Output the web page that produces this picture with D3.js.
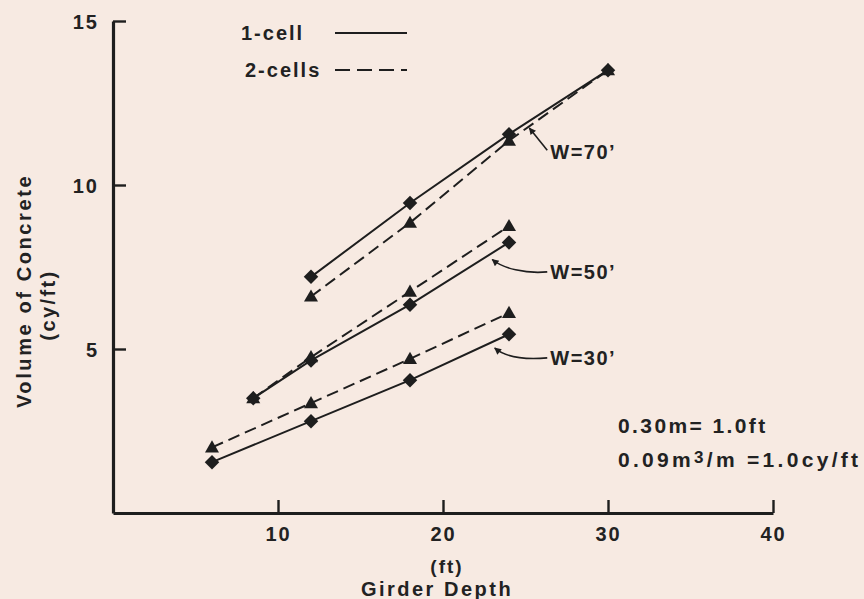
<!DOCTYPE html>
<html>
<head>
<meta charset="utf-8">
<script src="https://cdn.jsdelivr.net/npm/d3@7"></script>
<style>
  html, body { margin: 0; padding: 0; background: #f7eae2; }
  svg { display: block; }
  text { font-family: "Liberation Sans", Arial, sans-serif; font-weight: bold; fill: #222; }
</style>
</head>
<body>
<svg id="chart" width="864" height="599"></svg>
<script>
// ---- data ----
const depth30 = [6, 12, 18, 24];
const oneCell30 = [1.55, 2.8, 4.05, 5.45];
const twoCell30 = [2.0, 3.35, 4.7, 6.1];

const depth50 = [8.5, 12, 18, 24];
const oneCell50 = [3.5, 4.65, 6.35, 8.25];
const twoCell50 = [3.5, 4.75, 6.75, 8.75];

const depth70 = [12, 18, 24, 30];
const oneCell70 = [7.2, 9.45, 11.55, 13.5];
const twoCell70 = [6.6, 8.85, 11.35, 13.5];

const xTicks = [10, 20, 30, 40];
const yTicks = [5, 10, 15];
const widthLabels = ["W=30\u2019", "W=50\u2019", "W=70\u2019"];
// label anchor (depth, volume) and arrow target (depth, volume)
const labelPos = [[26.5, 4.73], [26.5, 7.35], [26.5, 11.0]];
const arrowTarget = [[22.95, 5.12], [22.8, 7.82], [25.05, 11.86]];
const legendLabels = ["1-cell", "2-cells"];

// ---- scales ----
const svg = d3.select("#chart");
const x = d3.scaleLinear().domain([0, 40]).range([113, 773]);
const y = d3.scaleLinear().domain([0, 15]).range([513, 21]);
const ink = "#1e1e1e";

// ---- axes ----
const yAxis = d3.axisLeft(y).tickValues(yTicks).tickSize(-13).tickSizeOuter(0).tickPadding(14);
const gy = svg.append("g").attr("transform", `translate(${x(0)},0)`).call(yAxis);
const xAxis = d3.axisBottom(x).tickValues(xTicks).tickSize(-13).tickSizeOuter(0).tickPadding(14);
const gx = svg.append("g").attr("transform", `translate(0,${y(0)})`).call(xAxis);
[gx, gy].forEach(g => {
  g.select(".domain").attr("stroke", ink).attr("stroke-width", 3.2);
  g.selectAll(".tick line").attr("stroke", ink).attr("stroke-width", 2.4);
  g.selectAll(".tick text").attr("fill", "#222").style("font-size", "20px")
    .style("font-family", "'Liberation Sans', Arial, sans-serif").style("font-weight", "bold")
    .style("letter-spacing", "2px");
});
gy.selectAll(".tick text").attr("dy", "0.38em");

// axis titles
svg.append("text").attr("transform", "translate(31,291) rotate(-90)")
  .attr("text-anchor", "middle").style("font-size", "20px").style("letter-spacing", "2.6px")
  .text("Volume of Concrete");
svg.append("text").attr("transform", "translate(55,305) rotate(-90)")
  .attr("text-anchor", "middle").style("font-size", "20px").style("letter-spacing", "2.4px")
  .text("(cy/ft)");
svg.append("text").attr("x", 447).attr("y", 573)
  .attr("text-anchor", "middle").style("font-size", "19px").style("letter-spacing", "2px")
  .text("(ft)");
svg.append("text").attr("x", 437).attr("y", 596)
  .attr("text-anchor", "middle").style("font-size", "20px").style("letter-spacing", "2.5px")
  .text("Girder Depth");

// ---- series ----
const seriesList = [
  { depth: depth30, v: oneCell30, dashed: false },
  { depth: depth50, v: oneCell50, dashed: false },
  { depth: depth70, v: oneCell70, dashed: false },
  { depth: depth30, v: twoCell30, dashed: true },
  { depth: depth50, v: twoCell50, dashed: true },
  { depth: depth70, v: twoCell70, dashed: true }
];
const line = d3.line().x(d => x(d[0])).y(d => y(d[1]));
seriesList.forEach(s => {
  const pts = s.depth.map((d, i) => [d, s.v[i]]);
  svg.append("path").attr("d", line(pts)).attr("fill", "none")
    .attr("stroke", ink).attr("stroke-width", 2)
    .attr("stroke-dasharray", s.dashed ? "12,6" : null);
});
const squareDiamond = {
  draw(ctx, size) {
    const r = Math.sqrt(size / 2);
    ctx.moveTo(0, -r); ctx.lineTo(r, 0); ctx.lineTo(0, r); ctx.lineTo(-r, 0); ctx.closePath();
  }
};
const diamond = d3.symbol().type(squareDiamond).size(105);
const triangle = d3.symbol().type(d3.symbolTriangle).size(85);
seriesList.forEach(s => {
  svg.append("g").selectAll("path").data(s.depth.map((d, i) => [d, s.v[i]])).join("path")
    .attr("transform", d => `translate(${x(d[0])},${y(d[1]) + (s.dashed ? 1 : 0)})`)
    .attr("d", s.dashed ? triangle : diamond)
    .attr("fill", ink);
});

// ---- annotations ----
svg.append("defs").append("marker").attr("id", "ah")
  .attr("viewBox", "0 0 10 10").attr("refX", 9).attr("refY", 5)
  .attr("markerWidth", 9).attr("markerHeight", 7).attr("orient", "auto")
  .attr("markerUnits", "userSpaceOnUse")
  .append("path").attr("d", "M0,0 L10,5 L0,10 Z").attr("fill", ink);

widthLabels.forEach((lab, i) => {
  const lx = x(labelPos[i][0]), ly = y(labelPos[i][1]);
  const tx = x(arrowTarget[i][0]), ty = y(arrowTarget[i][1]);
  svg.append("text").attr("x", lx).attr("y", ly).attr("dy", "0.36em")
    .style("font-size", "20px").style("letter-spacing", "1.5px").text(lab);
  const p = d3.path();
  const sx = lx - 3, sy = ly + (i === 2 ? -2 : 0);
  p.moveTo(sx, sy);
  if (i === 2) {
    p.lineTo(tx + 3, ty + 4);
  } else {
    p.bezierCurveTo(sx - 22, sy + 2, tx + 14, ty + 12, tx + 3, ty + 3);
  }
  svg.append("path").attr("d", p.toString()).attr("fill", "none")
    .attr("stroke", ink).attr("stroke-width", 1.6).attr("marker-end", "url(#ah)");
});

// ---- legend ----
legendLabels.forEach((lab, i) => {
  const ly = i === 0 ? 33 : 70;
  svg.append("text").attr("x", i === 0 ? 241 : 245).attr("y", ly).attr("dy", "0.36em")
    .style("font-size", "20px").style("letter-spacing", "2px").text(lab);
  svg.append("line").attr("x1", 335).attr("x2", 407).attr("y1", ly).attr("y2", ly)
    .attr("stroke", ink).attr("stroke-width", 2)
    .attr("stroke-dasharray", i === 1 ? "15,7" : null);
});

// ---- conversion notes ----
svg.append("text").attr("x", 618).attr("y", 433)
  .style("font-size", "21px").style("letter-spacing", "2.4px").text("0.30m= 1.0ft");
const note2 = svg.append("text").attr("x", 618).attr("y", 467)
  .style("font-size", "21px").style("letter-spacing", "3.3px");
note2.append("tspan").text("0.09m");
note2.append("tspan").attr("dy", -4).style("font-size", "17px").text("3");
note2.append("tspan").attr("dy", 4).text("/m =1.0cy/ft");
</script>
</body>
</html>
